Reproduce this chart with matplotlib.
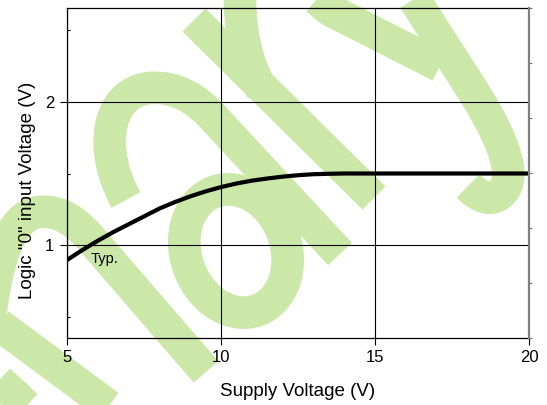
import matplotlib
matplotlib.use("Agg")
import matplotlib.pyplot as plt
from matplotlib.transforms import Affine2D
from matplotlib.path import Path
from matplotlib.patches import Ellipse, PathPatch

plt.rcParams['font.family'] = ['Liberation Sans', 'DejaVu Sans']

# Typical logic "0" input threshold versus supply voltage
supply_v = [5.0, 5.5, 6.0, 6.5, 7.0, 7.5, 8.0, 8.5, 9.0, 9.5, 10.0, 10.5,
            11.0, 11.5, 12.0, 12.5, 13.0, 13.5, 14.0, 15.0, 16.0, 17.0,
            18.0, 19.0, 20.0]
logic0_v = [0.895, 0.965, 1.03, 1.09, 1.145, 1.20, 1.255, 1.30, 1.34, 1.375,
            1.405, 1.43, 1.45, 1.465, 1.478, 1.488, 1.495, 1.498, 1.50, 1.50,
            1.50, 1.50, 1.50, 1.50, 1.50]

x_ticks = [5, 10, 15, 20]
y_ticks = [1, 2]
y_minor = [0.5, 1.5, 2.5]
right_ticks = [0, 1, 2, 3, 4, 5, 6]

W, H = 547, 405
fig = plt.figure(figsize=(W / 100, H / 100), dpi=100)
fig.patch.set_facecolor('white')

# Background watermark strokes, laid out in pixel space (origin top-left)
px = Affine2D().scale(1 / W, -1 / H).translate(0, 1) + fig.transFigure
mark_color = '#cbe8a9'
mark_lw = 23.5
M, L, C3, C4 = Path.MOVETO, Path.LINETO, Path.CURVE3, Path.CURVE4
strokes = [
    # arch with long leg
    ([(-12, 335), (-5, 262), (10, 214), (40, 212), (62, 210), (78, 224),
      (92, 240), (206, 372)],
     [M, C4, C4, C4, C4, C4, C4, L]),
    ([(-10, 318), (125, 418)], [M, L]),
    ([(-10, 372), (50, 428)], [M, L]),
    # hook and stem
    ([(126, 200), (98, 150), (106, 92), (150, 88), (176, 86), (196, 99),
      (212, 116), (340, 254)],
     [M, C4, C4, C4, C4, C4, C4, L]),
    ([(194, 20), (374, 198)], [M, L]),
    ([(262, 90), (238, 50), (240, -15)], [M, C3, C3]),
    ([(300, -15), (330, 10), (440, 66)], [M, L, L]),
    ([(405, -15), (466, 80), (496, 126), (522, 176), (500, 194),
      (490, 202), (478, 196), (468, 186)],
     [M, L, C4, C4, C4, C4, C4, C4]),
]
for verts, codes in strokes:
    fig.add_artist(PathPatch(Path(verts, codes), transform=px, fill=False,
                             edgecolor=mark_color, lw=mark_lw,
                             capstyle='butt', joinstyle='round', zorder=-5))
fig.add_artist(Ellipse((236, 251), 100, 126, angle=-20, transform=px,
                       fill=False, edgecolor=mark_color, lw=mark_lw, zorder=-5))

ax = fig.add_axes([67 / W, 1 - 338 / H, 462 / W, 330 / H])
ax.set_facecolor('none')
ax.set_xlim(5, 20)
ax.set_ylim(0.35, 2.657)

ax.plot(supply_v, logic0_v, color='black', lw=3.0, solid_capstyle='butt',
        zorder=3)

ax.set_xticks(x_ticks)
ax.set_yticks(y_ticks)
ax.set_yticks(y_minor, minor=True)
ax.tick_params(axis='both', which='major', direction='out', length=5,
               width=0.8, labelsize=12, pad=4, colors='black')
ax.tick_params(axis='y', which='minor', direction='in', length=2, width=0.8)
ax.tick_params(axis='x', which='minor', bottom=False)
ax.grid(True, which='major', color='black', lw=0.8)
ax.set_axisbelow(True)
for side in ('left', 'bottom', 'top'):
    ax.spines[side].set_color('black')
    ax.spines[side].set_linewidth(0.9)
ax.spines['right'].set_visible(False)

ax.text(5.78, 0.874, 'Typ.', fontsize=10.5, ha='left', va='baseline')

# Right-hand scale: tick marks only
ax_r = ax.twinx()
ax_r.set_ylim(0, 6)
ax_r.set_yticks(right_ticks)
ax_r.tick_params(axis='y', direction='out', length=2, width=0.8,
                 color='#707070', labelright=False)
for side in ('left', 'bottom', 'top'):
    ax_r.spines[side].set_visible(False)
ax_r.spines['right'].set_color('#808080')
ax_r.spines['right'].set_linewidth(1.6)

fig.text(298 / W, 1 - 392 / H, 'Supply Voltage (V)', fontsize=13.5,
         ha='center', va='center')
fig.text(28 / W, 1 - 190 / H, 'Logic "0" input Voltage (V)', fontsize=13.5,
         rotation=90, ha='center', va='center')

fig.savefig('out.png', dpi=100, facecolor='white')
